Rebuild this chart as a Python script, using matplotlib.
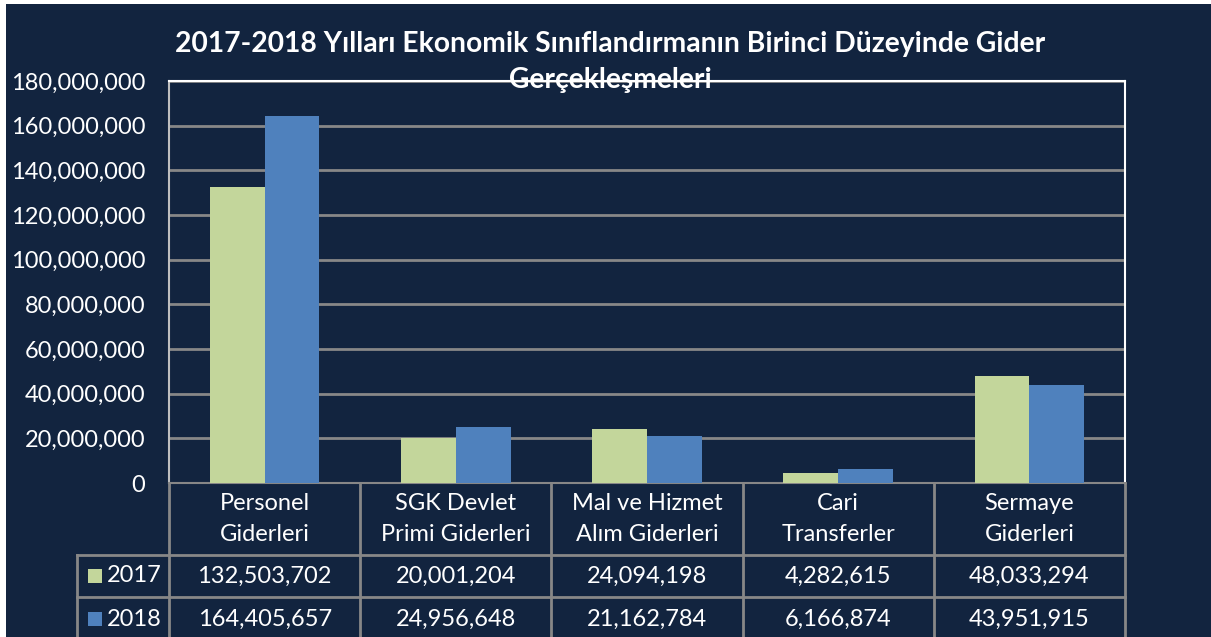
import numpy as np
import matplotlib.pyplot as plt
from matplotlib.patches import Rectangle
from matplotlib.transforms import blended_transform_factory

plt.rcParams['font.family'] = ['Lato', 'DejaVu Sans']

categories = ["Personel\nGiderleri", "SGK Devlet\nPrimi Giderleri", "Mal ve Hizmet\nAlım Giderleri",
              "Cari\nTransferler", "Sermaye\nGiderleri"]
years = ["2017", "2018"]
values_2017 = [132503702, 20001204, 24094198, 4282615, 48033294]
values_2018 = [164405657, 24956648, 21162784, 6166874, 43951915]
colors = ["#C3D69B", "#4F81BD"]

navy = "#12243F"
grid_c = "#878787"
W, H = 1211, 637

fig = plt.figure(figsize=(12.11, 6.37), dpi=100, facecolor="white")
fig.patches.append(Rectangle((6 / W, 0), 1, (H - 4) / H, transform=fig.transFigure,
                             facecolor=navy, edgecolor="none", zorder=-10))

ax = fig.add_axes([169 / W, (H - 483) / H, 956 / W, 402 / H])
ax.set_facecolor(navy)

x = np.arange(len(categories))
w = 0.287
ax.bar(x - w / 2, values_2017, w, color=colors[0], zorder=3)
ax.bar(x + w / 2, values_2018, w, color=colors[1], zorder=3)

ax.set_xlim(-0.5, len(categories) - 0.5)
ax.set_ylim(0, 180000000)
ax.set_yticks(np.arange(0, 180000001, 20000000))
ax.set_yticklabels([f"{v:,}" for v in range(0, 180000001, 20000000)])
ax.tick_params(axis="y", length=0, pad=17, labelsize=17, labelcolor="white")
ax.set_xticks([])
ax.yaxis.grid(True, color=grid_c, linewidth=2, zorder=1)
ax.set_axisbelow(True)
ax.spines["top"].set_color("white")
ax.spines["right"].set_color("white")
ax.spines["left"].set_color("#BFBFBF")
ax.spines["bottom"].set_color(grid_c)
for s in ax.spines.values():
    s.set_linewidth(1.5)

# data table below the axes
tr = blended_transform_factory(ax.transData, ax.transAxes)
row_y = [0, -72 / 402, -114 / 402, -158 / 402]
x_left = -0.5 + (77 - 169) / 191.2
bounds = np.arange(-0.5, len(categories), 1.0)
lkw = dict(color=grid_c, linewidth=2, transform=tr, clip_on=False)
for b in bounds:
    ax.plot([b, b], [row_y[0], row_y[-1]], **lkw)
ax.plot([x_left, x_left], [row_y[1], row_y[-1]], **lkw)
for ry in row_y[1:3]:
    ax.plot([x_left, bounds[-1]], [ry, ry], **lkw)

for i, cat in enumerate(categories):
    ax.text(i, (row_y[0] + row_y[1]) / 2, cat, transform=tr, ha="center", va="center",
            color="white", fontsize=17, linespacing=1.55)
    for r, vals in enumerate([values_2017, values_2018]):
        ax.text(i, (row_y[r + 1] + row_y[r + 2]) / 2, f"{vals[i]:,}", transform=tr,
                ha="center", va="center", color="white", fontsize=17)

sq_x = -0.5 + (88 - 169) / 191.2
for r, yr in enumerate(years):
    yc = (row_y[r + 1] + row_y[r + 2]) / 2
    ax.add_patch(Rectangle((sq_x, yc - 7 / 402), 14 / 191.2, 14 / 402, transform=tr,
                           facecolor=colors[r], edgecolor="none", clip_on=False))
    ax.text(sq_x + 19 / 191.2, yc, yr, transform=tr, ha="left", va="center",
            color="white", fontsize=17)

fig.text(610 / W, 1 - 62 / H,
         "2017-2018 Yılları Ekonomik Sınıflandırmanın Birinci Düzeyinde Gider\nGerçekleşmeleri",
         ha="center", va="center", color="white", fontsize=20.3, fontweight="bold",
         linespacing=1.45)

fig.savefig("out.png", dpi=100, facecolor=fig.get_facecolor())
